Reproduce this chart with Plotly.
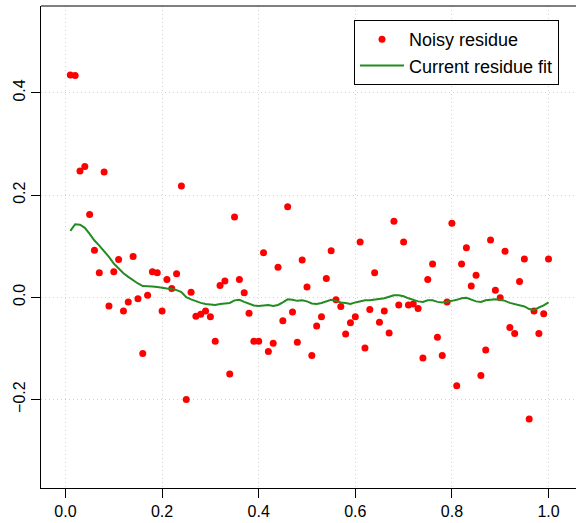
import plotly.graph_objects as go

x_vals = [i / 100 for i in range(1, 101)]

noisy_residue = [
    0.435, 0.434, 0.247, 0.256, 0.162, 0.092, 0.048, 0.245, -0.017, 0.050,
    0.074, -0.027, -0.009, 0.080, -0.003, -0.110, 0.004, 0.050, 0.048, -0.027,
    0.035, 0.017, 0.046, 0.218, -0.200, 0.010, -0.037, -0.033, -0.027, -0.038,
    -0.086, 0.023, 0.032, -0.150, 0.157, 0.035, 0.009, -0.031, -0.086, -0.086,
    0.087, -0.106, -0.090, 0.059, -0.046, 0.177, -0.029, -0.088, 0.073, 0.020,
    -0.114, -0.056, -0.038, 0.037, 0.091, -0.005, -0.018, -0.072, -0.050, -0.038,
    0.108, -0.099, -0.024, 0.048, -0.049, -0.027, -0.070, 0.149, -0.015, 0.108,
    -0.015, -0.013, -0.022, -0.119, 0.035, 0.065, -0.078, -0.114, -0.009, 0.145,
    -0.173, 0.065, 0.097, 0.022, 0.043, -0.153, -0.103, 0.112, 0.014, -0.001,
    0.090, -0.059, -0.071, 0.031, 0.075, -0.238, -0.027, -0.071, -0.032, 0.075,
]

residue_fit = [
    0.130, 0.143, 0.142, 0.136, 0.124, 0.111, 0.101, 0.091, 0.079, 0.066,
    0.056, 0.047, 0.040, 0.033, 0.027, 0.022, 0.022, 0.021, 0.020, 0.018,
    0.017, 0.016, 0.014, 0.010, 0.000, -0.004, -0.008, -0.011, -0.013, -0.014,
    -0.015, -0.013, -0.012, -0.011, -0.006, -0.005, -0.009, -0.013, -0.016, -0.017,
    -0.016, -0.015, -0.017, -0.015, -0.010, -0.004, -0.005, -0.007, -0.006, -0.008,
    -0.012, -0.013, -0.011, -0.008, -0.005, -0.007, -0.010, -0.011, -0.013, -0.010,
    -0.008, -0.006, -0.006, -0.005, -0.004, -0.002, 0.001, 0.004, 0.004, 0.002,
    -0.002, -0.005, -0.008, -0.009, -0.006, -0.006, -0.009, -0.010, -0.009, -0.007,
    -0.005, -0.002, -0.001, -0.004, -0.008, -0.009, -0.006, -0.005, -0.004, -0.005,
    -0.007, -0.011, -0.013, -0.016, -0.018, -0.023, -0.025, -0.020, -0.016, -0.010,
]

x_ticks = [0.0, 0.2, 0.4, 0.6, 0.8, 1.0]
x_tick_labels = ["0.0", "0.2", "0.4", "0.6", "0.8", "1.0"]
y_ticks = [-0.2, 0.0, 0.2, 0.4]
y_tick_labels = ["\u22120.2", "0.0", "0.2", "0.4"]

FONT = "Liberation Sans, Arial, Helvetica, sans-serif"

fig = go.Figure()
fig.add_trace(go.Scatter(
    x=x_vals, y=noisy_residue, mode="markers", name="Noisy residue",
    marker=dict(color="#FF0000", size=7, line=dict(width=0)),
))
fig.add_trace(go.Scatter(
    x=x_vals, y=residue_fit, mode="lines", name="Current residue fit",
    line=dict(color="#228B22", width=2),
))

fig.update_layout(
    width=576, height=523,
    margin=dict(l=41, r=0, t=6, b=35),
    paper_bgcolor="white", plot_bgcolor="white",
    font=dict(family=FONT, size=16, color="black"),
    showlegend=True,
    legend=dict(
        x=(354 - 41) / 535, y=1 - (20 - 6) / 482, xanchor="left", yanchor="top",
        bgcolor="white", bordercolor="black", borderwidth=1,
        font=dict(family=FONT, size=18, color="black"),
        itemwidth=44, tracegroupgap=0,
    ),
    shapes=[dict(type="line", xref="paper", yref="paper", x0=0, x1=1, y0=1, y1=1,
                 line=dict(color="black", width=1))],
)
fig.update_xaxes(
    range=[-0.0507, 1.0569], tickmode="array", tickvals=x_ticks, ticktext=x_tick_labels,
    showline=True, linecolor="black", linewidth=1,
    ticks="outside", ticklen=9, tickcolor="black",
    showgrid=True, gridcolor="#d3d3d3", griddash="1px,3px", gridwidth=1,
    zeroline=False, tickfont=dict(size=16),
)
fig.update_yaxes(
    range=[-0.3732, 0.5700], tickmode="array", tickvals=y_ticks, ticktext=y_tick_labels,
    showline=True, linecolor="black", linewidth=1,
    ticks="outside", ticklen=9, tickcolor="black", tickangle=-90,
    showgrid=True, gridcolor="#d3d3d3", griddash="1px,3px", gridwidth=1,
    zeroline=False, tickfont=dict(size=16),
)

fig.write_html("out.html")
